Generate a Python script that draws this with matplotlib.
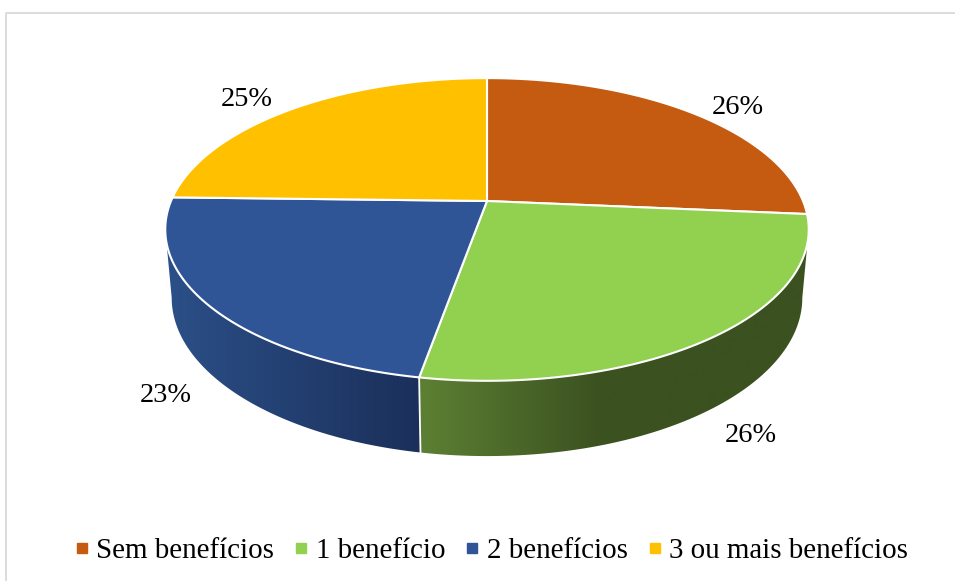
import numpy as np
import matplotlib
matplotlib.use("Agg")
import matplotlib.pyplot as plt
from matplotlib.lines import Line2D
from matplotlib.patches import Polygon

categories = ["Sem benefícios", "1 benefício", "2 benefícios", "3 ou mais benefícios"]
values = [26.4, 26.4, 22.6, 24.6]
colors = ["#C55A11", "#92D050", "#2F5597", "#FFC000"]
wall_light = {1: "#5C8033", 2: "#2B4F87"}
wall_dark = {1: "#3B5120", 2: "#1B2F5A"}
wall_range = {1: (420, 600), 2: (170, 420)}
label_pos = [(738, 107), (751, 435), (166, 396), (247, 100)]

plt.rcParams["font.family"] = ["Liberation Serif", "DejaVu Serif"]
fig = plt.figure(figsize=(9.55, 5.81), dpi=100)
ax = fig.add_axes([0, 0, 1, 1])
ax.axis("off")

# Perspective view of a circular disc
CX, CY, A, B, K = 487, 201, 316, 146, 0.188


def top(theta):
    x, y = np.cos(theta), np.sin(theta)
    w = 1 + K * y
    return CX + A * x / w, CY - B * y / w


def bottom(theta):
    px, py = top(theta)
    return CX + 0.98 * (px - CX), 268 + 1.046 * (py - CY)


def rgb(c):
    return np.array(matplotlib.colors.to_rgb(c))


frac = np.cumsum([0] + values) / sum(values)
angles = np.pi / 2 - 2 * np.pi * frac   # clockwise from 12 o'clock
tangent = np.arcsin(-K)                 # widest point of the projected disc

# side walls: horizontal gradients clipped to the visible part of each slice
wall_spans = {1: (min(angles[1], tangent), angles[2]),
              2: (angles[2], max(angles[3], -np.pi - tangent))}
columns = np.arange(955) + 0.5
for i, (t0, t1) in wall_spans.items():
    ts = np.linspace(t0, t1, 300)
    tx, ty = top(ts)
    bx, by = bottom(ts)
    poly = Polygon(np.c_[np.r_[tx, bx[::-1]], np.r_[ty, by[::-1]]], closed=True,
                   transform=ax.transData, fc="none", ec="none")
    ax.add_patch(poly)
    x0, x1 = wall_range[i]
    f = np.clip((columns - x0) / (x1 - x0), 0, 1)[None, :, None]
    grad = rgb(wall_light[i])[None, None, :] * (1 - f) + rgb(wall_dark[i])[None, None, :] * f
    im = ax.imshow(grad, extent=(0, 955, 581, 0), aspect="auto", zorder=2,
                   interpolation="bilinear")
    im.set_clip_path(poly)

ax.set_xlim(0, 955)
ax.set_ylim(581, 0)

# white seam between walls
sx, sy = top(angles[2])
bx, by = bottom(angles[2])
ax.plot([sx, bx], [sy, by], color="white", lw=1.3, zorder=3)

# top faces
for i, c in enumerate(colors):
    ts = np.linspace(angles[i], angles[i + 1], 200)
    px, py = top(ts)
    ax.fill(np.r_[CX, px], np.r_[CY, py], facecolor=c, edgecolor="white",
            lw=1.5, joinstyle="round", zorder=4)

# labels
for v, (lx, ly) in zip(values, label_pos):
    ax.text(lx, ly, f"{round(v)}%", fontsize=20.4, ha="center", va="center",
            color="black", zorder=5)

# legend
handles = [Line2D([], [], marker="s", ls="none", ms=6.5, color=c) for c in colors]
ax.legend(handles, categories, loc="center", bbox_to_anchor=(491.2 / 955, 1 - 551 / 581),
          ncol=4, frameon=False, fontsize=20.9, handlelength=0.5, handletextpad=0.25,
          columnspacing=0.68, borderpad=0, labelcolor="black")

# chart frame (left and top edges are visible)
ax.plot([5.5, 5.5, 955], [581, 12.5, 12.5], color="#D9D9D9", lw=1.3, zorder=1,
        clip_on=False)

fig.savefig("out.png", dpi=100)
